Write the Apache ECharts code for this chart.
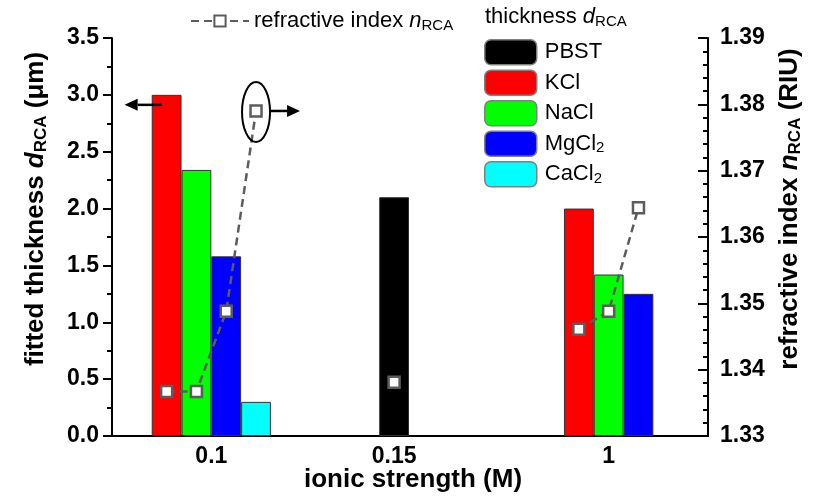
<!DOCTYPE html>
<html>
<head>
<meta charset="utf-8">
<script src="https://cdn.jsdelivr.net/npm/echarts@6/dist/echarts.min.js"></script>
<style>html,body{margin:0;padding:0;background:#fff}#c{width:813px;height:497px}</style>
</head>
<body>
<div id="c"></div>
<script>
// ---- data ----
const categories = ['0.1', '0.15', '1'];
const catPos = [0.5, 1.42, 2.5];
const seriesNames = ['PBST', 'KCl', 'NaCl', 'MgCl2', 'CaCl2'];
const thickPBST  = [null, 2.10, null];
const thickKCl   = [3.00, null, 2.00];
const thickNaCl  = [2.34, null, 1.42];
const thickMgCl2 = [1.58, null, 1.25];
const thickCaCl2 = [0.30, null, null];
const riPBST  = [null, 1.3381, null];
const riKCl   = [1.3367, null, 1.3461];
const riNaCl  = [1.3367, null, 1.3488];
const riMgCl2 = [1.3488, null, 1.3644];
const riCaCl2 = [1.3790, null, null];
const leftTicks = [0, 3.5, 0.5];
const rightTicks = [1.33, 1.39, 0.01];

const thick = [thickPBST, thickKCl, thickNaCl, thickMgCl2, thickCaCl2];
const ri = [riPBST, riKCl, riNaCl, riMgCl2, riCaCl2];
const colors = ['#000000', '#ff0000', '#00ff00', '#0000ff', '#00ffff'];

// layout
const G = {left: 112, right: 105, top: 38, bottom: 61, outerBoundsMode: 'none', containLabel: false};
const plotW = 813 - G.left - G.right;
const xMax = 3;
const slot = 0.15;
const barW = slot * plotW / xMax;
const FONT = 'Liberation Sans, Arial, sans-serif';

// positions of bars within each category (centered on the present ones)
const xOf = thick.map(() => [null, null, null]);
categories.forEach((c, ci) => {
  const present = thick.map((a, si) => a[ci] != null ? si : -1).filter(s => s >= 0);
  present.forEach((si, k) => {
    xOf[si][ci] = catPos[ci] + (k - (present.length - 1) / 2) * slot;
  });
});

const barSeries = seriesNames.map((n, si) => ({
  name: n,
  type: 'bar',
  xAxisIndex: 0, yAxisIndex: 0,
  barWidth: barW,
  barGap: '-100%',
  itemStyle: {color: colors[si], borderColor: '#333', borderWidth: 1},
  data: categories.map((c, ci) => thick[si][ci] != null ? [xOf[si][ci], thick[si][ci]] : null).filter(d => d),
  z: 2
}));

const lineData = [];
categories.forEach((c, ci) => {
  if (ci > 0) lineData.push([catPos[ci] - 0.5, '-']);
  seriesNames.forEach((n, si) => {
    if (ri[si][ci] != null) lineData.push([xOf[si][ci], ri[si][ci]]);
  });
});

const GRAY = '#5c5c5c';
const lineSeries = {
  name: 'ri',
  type: 'line',
  xAxisIndex: 0, yAxisIndex: 1,
  data: lineData,
  connectNulls: false,
  symbol: 'rect',
  symbolSize: 11,
  lineStyle: {color: GRAY, width: 2.5, type: [8, 5]},
  itemStyle: {color: '#fff', borderColor: GRAY, borderWidth: 2.5},
  z: 5
};

const subRich = {
  t: {fontSize: 22, fontFamily: FONT, color: '#000'},
  t0: {fontSize: 22, fontFamily: FONT, color: '#000', padding: [0, 0, 0, 3]},
  i: {fontSize: 22, fontFamily: FONT, fontStyle: 'italic', color: '#000'},
  s: {fontSize: 15, fontFamily: FONT, color: '#000', padding: [9, 0, 0, 0]},
  tb: {fontSize: 26, fontFamily: FONT, fontWeight: 'bold', color: '#000'},
  ib: {fontSize: 26, fontFamily: FONT, fontWeight: 'bold', fontStyle: 'italic', color: '#000'},
  sb: {fontSize: 17, fontFamily: FONT, fontWeight: 'bold', color: '#000', padding: [11, 0, 0, 0]}
};

const chart = echarts.init(document.getElementById('c'), null, {renderer: 'canvas'});
const option = {
  animation: false,
  backgroundColor: '#fff',
  grid: G,
  legend: [
    {
      data: ['ri'],
      left: 190, top: 10, padding: 0,
      itemWidth: 58, itemHeight: 14,
      textStyle: {rich: subRich},
      formatter: () => '{t|refractive index }{i|n}{s|RCA}'
    },
    {
      data: seriesNames,
      orient: 'vertical',
      left: 484, top: 39, padding: 0,
      itemWidth: 52, itemHeight: 25, itemGap: 4,
      itemStyle: {borderColor: '#808080', borderWidth: 1.5},
      textStyle: {rich: subRich},
      formatter: n => /\D2$/.test(n) ? '{t0|' + n.slice(0, -1) + '}{s|2}' : '{t0|' + n + '}'
    }
  ],
  xAxis: {
    type: 'value', min: 0, max: xMax,
    name: '{tb|ionic strength (M)}',
    nameLocation: 'middle', nameGap: 31, nameMoveOverlap: false,
    nameTextStyle: {rich: subRich, padding: [0, 0, 0, 6]},
    axisLine: {show: true, onZero: false, lineStyle: {color: '#000', width: 2}},
    axisTick: {show: false},
    splitLine: {show: false},
    axisLabel: {
      customValues: catPos,
      fontSize: 23, fontWeight: 'bold', fontFamily: FONT, color: '#000', margin: 9,
      formatter: v => { const k = catPos.findIndex(p => Math.abs(p - v) < 1e-6); return k >= 0 ? categories[k] : ''; }
    }
  },
  yAxis: [
    {
      type: 'value', min: leftTicks[0], max: leftTicks[1], interval: leftTicks[2],
      position: 'left',
      name: '{tb|fitted thickness }{ib|d}{sb|RCA}{tb| (μm)}',
      nameLocation: 'middle', nameGap: 62, nameRotate: 90, nameMoveOverlap: false,
      nameTextStyle: {rich: subRich, padding: [0, 0, 0, 56]},
      axisLine: {show: true, lineStyle: {color: '#000', width: 2}},
      axisTick: {show: true, inside: false, length: 9, lineStyle: {color: '#000', width: 2}},
      minorTick: {show: true, splitNumber: 2, length: 5, lineStyle: {color: '#000', width: 2}},
      splitLine: {show: false},
      axisLabel: {fontSize: 23, fontWeight: 'bold', fontFamily: FONT, color: '#000', margin: 13,
        formatter: v => v.toFixed(1)}
    },
    {
      type: 'value', min: rightTicks[0], max: rightTicks[1], interval: rightTicks[2],
      position: 'right',
      name: '{tb|refractive index }{ib|n}{sb|RCA}{tb| (RIU)}',
      nameLocation: 'middle', nameGap: 68, nameRotate: 90, nameMoveOverlap: false,
      nameTextStyle: {rich: subRich, padding: [0, 0, 0, 56]},
      axisLine: {show: true, lineStyle: {color: '#000', width: 2}},
      axisTick: {show: true, inside: true, length: 10, lineStyle: {color: '#000', width: 2}},
      minorTick: {show: true, splitNumber: 5, length: 5, lineStyle: {color: '#000', width: 2}},
      splitLine: {show: false},
      axisLabel: {fontSize: 23, fontWeight: 'bold', fontFamily: FONT, color: '#000', margin: 12,
        formatter: v => v.toFixed(2)}
    }
  ],
  series: barSeries.concat([lineSeries])
};
chart.setOption(option);

// annotations anchored to data points
const pKCl = chart.convertToPixel({xAxisIndex: 0, yAxisIndex: 0}, [xOf[1][0], thickKCl[0]]);
const pCa = chart.convertToPixel({xAxisIndex: 0, yAxisIndex: 1}, [xOf[4][0], riCaCl2[0]]);
function arrow(x1, y, x2) {
  const dir = Math.sign(x2 - x1);
  const head = 13, hw = 6;
  return [
    {type: 'line', shape: {x1: x1, y1: y, x2: x2 - dir * head, y2: y}, style: {stroke: '#000', lineWidth: 2.5}, z: 10},
    {type: 'polygon', shape: {points: [[x2, y], [x2 - dir * head, y - hw], [x2 - dir * head, y + hw]]}, style: {fill: '#000'}, z: 10}
  ];
}
const graphics = [
  {type: 'text', left: 485, top: 6, z: 10,
   style: {rich: subRich, text: '{t|thickness }{i|d}{s|RCA}'}},
  {type: 'ellipse', shape: {cx: pCa[0], cy: pCa[1] + 1, rx: 14, ry: 30},
   style: {fill: 'none', stroke: '#000', lineWidth: 2}, z: 10}
].concat(arrow(pKCl[0] - 5, pKCl[1] + 10, pKCl[0] - 42))
 .concat(arrow(pCa[0] + 14, pCa[1], pCa[0] + 44));
chart.setOption({graphic: graphics});
</script>
</body>
</html>
